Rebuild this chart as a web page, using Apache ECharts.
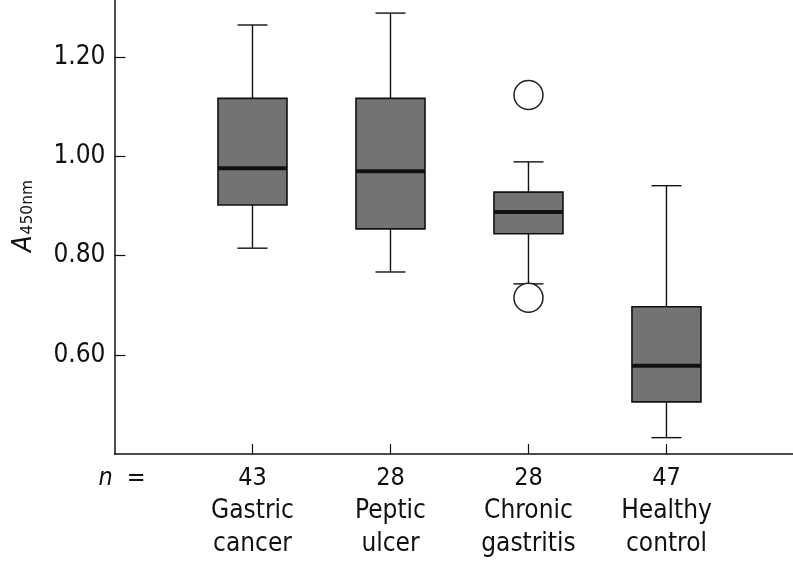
<!DOCTYPE html>
<html>
<head>
<meta charset="utf-8">
<script src="https://cdn.jsdelivr.net/npm/echarts@6/dist/echarts.min.js"></script>
<style>
html,body{margin:0;padding:0;background:#fff;}
#chart{width:793px;height:567px;}
</style>
</head>
<body>
<div id="chart"></div>
<script>
// ---- data ----
const categories = ['Gastric\ncancer', 'Peptic\nulcer', 'Chronic\ngastritis', 'Healthy\ncontrol'];
const nCounts = [43, 28, 28, 47];
const whiskerLow = [0.815, 0.767, 0.743, 0.433];
const q1 = [0.902, 0.854, 0.844, 0.505];
const median = [0.976, 0.970, 0.888, 0.578];
const q3 = [1.117, 1.117, 0.928, 0.697];
const whiskerHigh = [1.265, 1.289, 0.989, 0.941];
const outliers = [[3, 1.124], [3, 0.715]];
const yTicks = [0.6, 0.8, 1.0, 1.2];
const xTicks = [1, 2, 3, 4];

const FONT = '"DejaVu Sans Condensed", "DejaVu Sans", sans-serif';
const boxData = categories.map((c, i) => [i + 1, whiskerLow[i], q1[i], median[i], q3[i], whiskerHigh[i]]);

const chart = echarts.init(document.getElementById('chart'), null, {renderer: 'canvas'});

function renderBox(params, api) {
  const x = api.value(0);
  const pLow = api.coord([x, api.value(1)]);
  const pQ1 = api.coord([x, api.value(2)]);
  const pMed = api.coord([x, api.value(3)]);
  const pQ3 = api.coord([x, api.value(4)]);
  const pHigh = api.coord([x, api.value(5)]);
  const cx = pMed[0];
  const half = 34.5, cap = 15;
  const lineStyle = {stroke: '#111', lineWidth: 1.4};
  return {
    type: 'group',
    children: [
      {type: 'line', shape: {x1: cx, y1: pHigh[1], x2: cx, y2: pQ3[1]}, style: lineStyle},
      {type: 'line', shape: {x1: cx, y1: pQ1[1], x2: cx, y2: pLow[1]}, style: lineStyle},
      {type: 'line', shape: {x1: cx - cap, y1: pHigh[1], x2: cx + cap, y2: pHigh[1]}, style: lineStyle},
      {type: 'line', shape: {x1: cx - cap, y1: pLow[1], x2: cx + cap, y2: pLow[1]}, style: lineStyle},
      {type: 'rect', shape: {x: cx - half, y: pQ3[1], width: half * 2, height: pQ1[1] - pQ3[1]},
        style: {fill: '#737373', stroke: '#111', lineWidth: 1.6}},
      {type: 'line', shape: {x1: cx - half, y1: pMed[1], x2: cx + half, y2: pMed[1]},
        style: {stroke: '#111', lineWidth: 4}}
    ]
  };
}

const option = {
  animation: false,
  backgroundColor: '#fff',
  grid: {left: 114.5, right: 0, top: 0, bottom: 113, containLabel: false},
  xAxis: {
    type: 'value',
    min: 0,
    max: 4.917,
    interval: 1,
    splitLine: {show: false},
    axisLine: {show: true, onZero: false, lineStyle: {color: '#111', width: 1.5}},
    axisTick: {show: true, inside: true, length: 10, customValues: xTicks, lineStyle: {color: '#111', width: 1.2}},
    axisLabel: {
      customValues: [0].concat(xTicks),
      margin: 7,
      color: '#111',
      fontFamily: FONT,
      fontSize: 25,
      lineHeight: 33,
      formatter: function (v) {
        if (v === 0) return '{i|n}{e|=}';
        const i = Math.round(v) - 1;
        const parts = categories[i].split('\n');
        return '{k|' + nCounts[i] + '}\n{c|' + parts[0] + '}\n{c|' + parts[1] + '}';
      },
      rich: {
        k: {fontFamily: FONT, fontSize: 25, lineHeight: 34, color: '#111'},
        c: {fontFamily: FONT, fontSize: 26, lineHeight: 33, color: '#111'},
        i: {fontFamily: FONT, fontSize: 25, fontStyle: 'italic', lineHeight: 34, color: '#111', padding: [0, 0, 0, 15]},
        e: {fontFamily: FONT, fontSize: 25, lineHeight: 34, color: '#111', padding: [0, 0, 0, 14]}
      }
    }
  },
  yAxis: {
    type: 'value',
    min: 0.4,
    max: 1.3154,
    interval: 0.2,
    splitLine: {show: false},
    axisLine: {show: true, onZero: false, lineStyle: {color: '#111', width: 1.5}},
    axisTick: {show: true, inside: true, length: 11, customValues: yTicks, lineStyle: {color: '#111', width: 1.2}},
    axisLabel: {
      customValues: yTicks,
      margin: 9,
      color: '#111',
      fontFamily: FONT,
      fontSize: 26,
      formatter: function (v) { return v.toFixed(2); }
    },
    name: '{a|A}{s|450nm}',
    nameLocation: 'middle',
    nameRotate: 90,
    nameGap: 77,
    nameTextStyle: {
      rich: {
        a: {fontFamily: FONT, fontSize: 27, fontStyle: 'italic', color: '#111', verticalAlign: 'bottom', padding: [0, 0, 0, 22]},
        s: {fontFamily: '"DejaVu Sans", sans-serif', fontSize: 15.5, color: '#111', verticalAlign: 'bottom', padding: [0, 0, 2, 1]}
      }
    }
  },
  series: [
    {
      type: 'custom',
      renderItem: renderBox,
      data: boxData,
      encode: {x: 0, y: [1, 2, 3, 4, 5]},
      z: 2
    },
    {
      type: 'scatter',
      data: outliers,
      symbol: 'circle',
      symbolSize: 29,
      itemStyle: {color: '#fff', borderColor: '#222', borderWidth: 1.5, opacity: 1},
      z: 3
    }
  ]
};
chart.setOption(option);
</script>
</body>
</html>
